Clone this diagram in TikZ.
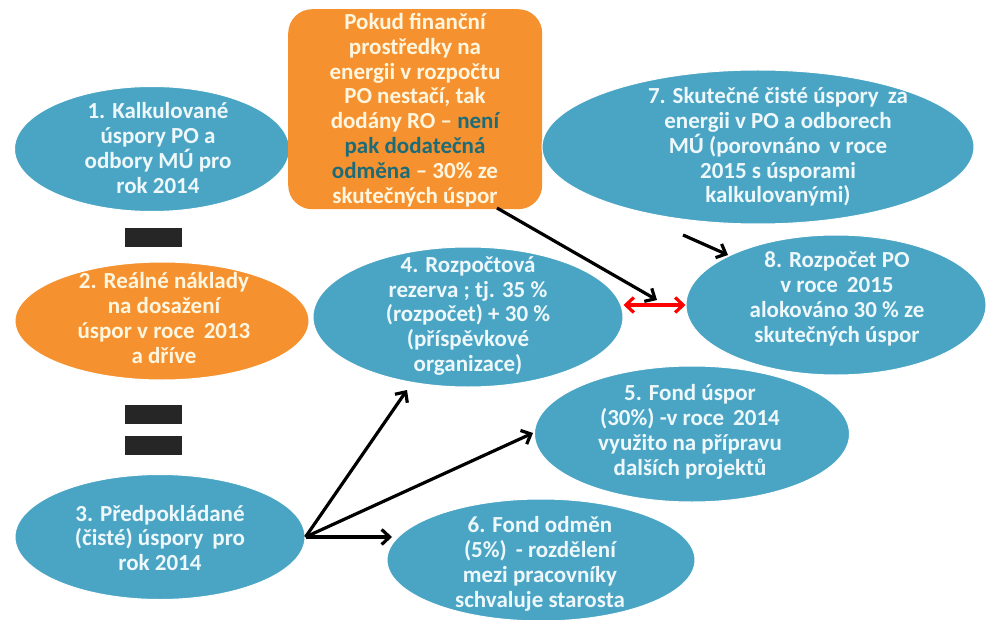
\documentclass[tikz,border=0pt]{standalone}
\usepackage{fontspec}
\setmainfont{Carlito}
\usetikzlibrary{shapes.geometric,arrows.meta,calc}
\definecolor{blueF}{HTML}{4AA5C5}
\definecolor{orangeF}{HTML}{F5922F}
\definecolor{txtB}{HTML}{EEF8FB}
\definecolor{txtO}{HTML}{FFF6E0}
\definecolor{emphC}{HTML}{1E6B78}
\begin{document}
\begin{tikzpicture}[x=1pt,y=-1pt,
 blob/.style={ellipse, fill=blueF, draw=white, line width=1pt, inner sep=0pt},
 oblob/.style={ellipse, fill=orangeF, draw=white, line width=1pt, inner sep=0pt},
 lbl/.style={align=center, font=\fontsize{23}{24.8}\selectfont\bfseries, text=txtB, inner sep=0pt},
 olbl/.style={lbl, text=txtO},
 arr/.style={line width=3.2pt, -{Straight Barb[length=8pt,width=15pt]}},
 darr/.style={line width=3.2pt, red, {Straight Barb[length=8pt,width=15pt]}-{Straight Barb[length=8pt,width=15pt]}},
 barbox/.style={fill=black!85, minimum width=57pt, minimum height=19pt, inner sep=0pt}
]
\useasboundingbox[fill=white] (0,0) rectangle (987,620);

% ellipses
\node[blob, minimum width=275pt, minimum height=125pt] (e1) at (152,149) {};
\node[fill=orangeF, rounded corners=24pt, minimum width=254pt, minimum height=200pt, inner sep=0pt, anchor=north west] (box) at (288,9) {};
\node[blob, minimum width=432pt, minimum height=154pt] (e7) at (758,147) {};
\node[oblob, minimum width=294pt, minimum height=118pt] (e2) at (162,321) {};
\node[blob, minimum width=310pt, minimum height=140pt] (e4) at (468,317) {};
\node[blob, minimum width=300pt, minimum height=140pt] (e8) at (836,305) {};
\node[blob, minimum width=315pt, minimum height=136pt] (e5) at (692,434) {};
\node[blob, minimum width=308pt, minimum height=122pt] (e6) at (541,560) {};
\node[blob, minimum width=290pt, minimum height=125pt] (e3) at (160,537) {};

% bars
\node[barbox] (b1) at (153,238) {};
\node[barbox] (b2) at (153,414) {};
\node[barbox] (b3) at (153,445) {};

% texts
\node[lbl] (t1) at (158,148) {1. Kalkulované\\úspory PO a\\odbory MÚ pro\\rok 2014};
\node[olbl] (tb) at (415,110) {Pokud finanční\\prostředky na\\energii v rozpočtu\\PO nestačí, tak\\dodány RO – \textcolor{emphC}{není}\\\textcolor{emphC}{pak dodatečná}\\\textcolor{emphC}{odměna} – 30\% ze\\skutečných úspor};
\node[lbl] (t7) at (778,147) {7. Skutečné čisté úspory\, za\\energii v PO a odborech\\MÚ (porovnáno\, v roce\\2015 s úsporami\\kalkulovanými)};
\node[olbl] (t2) at (164,318) {2. Reálné náklady\\na dosažení\\úspor v roce\, 2013\\a dříve};
\node[lbl] (t4) at (468,316) {4. Rozpočtová\\rezerva ; tj. 35 \%\\(rozpočet) + 30 \%\\(příspěvkové\\organizace)};
\node[lbl] (t8) at (837,299) {8. Rozpočet PO\\v roce\, 2015\\alokováno 30 \% ze\\skutečných úspor};
\node[lbl] (t5) at (690,432) {5. Fond úspor\\(30\%) -v roce\, 2014\\využito na přípravu\\dalších projektů};
\node[lbl] (t6) at (540,564) {6. Fond odměn\\(5\%)\, - rozdělení\\mezi pracovníky\\schvaluje starosta};
\node[lbl] (t3) at (160,538) {3. Předpokládané\\(čisté) úspory\, pro\\rok 2014};

% connectors
\coordinate (p4) at (407,390);
\coordinate (p5) at (533,433);
\coordinate (p6) at (392,537);
\draw[arr] (e3.east) -- (p4);
\draw[arr] (e3.east) -- (p5);
\draw[arr] (e3.east) -- (p6);
\draw[darr] (e4.east |- e8.west) -- (e8.west);
\coordinate (bs) at (497,208);
\coordinate (bt) at (657,300);
\draw[arr] (bs) -- (bt);
\coordinate (s7) at (683,235);
\coordinate (t78) at (728,255);
\draw[arr] (s7) -- (t78);
\end{tikzpicture}
\end{document}
